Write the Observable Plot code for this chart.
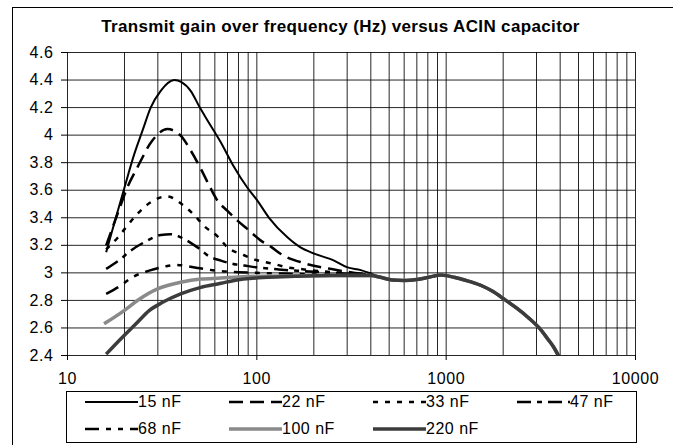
<!DOCTYPE html>
<html><head><meta charset="utf-8">
<script src="https://cdn.jsdelivr.net/npm/d3@7"></script>
<script src="https://cdn.jsdelivr.net/npm/@observablehq/plot@0.6"></script>
<style>
body{margin:0;background:#fff;font-family:"Liberation Sans",Arial,sans-serif;color:#000;}
#wrap{position:relative;width:673px;height:445px;overflow:hidden;background:#fff;}
#frame{position:absolute;left:12px;top:7px;width:700px;height:500px;border-left:1px solid #000;border-top:1px solid #000;}
#title{position:absolute;top:16px;left:4px;width:673px;text-align:center;font-weight:bold;font-size:17px;letter-spacing:0.35px;line-height:22px;}
#chart{position:absolute;top:42px;left:0;}
#legend{position:absolute;left:66px;top:391px;width:569px;height:50px;border:1px solid #000;}
.item{position:absolute;display:flex;align-items:center;height:18px;font-size:16px;letter-spacing:0.5px;white-space:nowrap;}
</style></head><body>
<div id="wrap"><div id="frame"></div><div id="title">Transmit gain over frequency (Hz) versus ACIN capacitor</div><div id="chart"></div><div id="legend"></div></div>
<script>
// ---- data (frequency in Hz, gain) ----
const names = ["15 nF","22 nF","33 nF","47 nF","68 nF","100 nF","220 nF"];

const f15 = [16, 18, 20, 22.5, 25, 27.5, 31, 36.6, 40, 44.8, 50, 55, 64.6, 75, 89, 100, 116, 145, 170, 193, 256, 301, 354, 400];
const v15 = [3.15, 3.40, 3.62, 3.86, 4.04, 4.20, 4.32, 4.40, 4.385, 4.32, 4.20, 4.105, 3.947, 3.78, 3.62, 3.53, 3.40, 3.258, 3.185, 3.149, 3.089, 3.04, 3.02, 2.995];

const f22 = [16, 18.4, 20.7, 23.4, 28, 33.7, 39.6, 44.8, 50, 56, 62, 70, 79, 90, 105, 120, 134, 178, 256, 330, 400];
const v22 = [3.20, 3.43, 3.62, 3.766, 3.959, 4.044, 3.996, 3.887, 3.77, 3.635, 3.524, 3.45, 3.379, 3.313, 3.234, 3.185, 3.137, 3.07, 3.024, 3.0, 2.985];

const f33 = [16, 18.4, 20.7, 23.4, 27, 33.5, 40.5, 46.6, 53, 62, 70, 85, 100, 123, 145, 178, 250, 330, 400];
const v33 = [3.17, 3.255, 3.343, 3.428, 3.505, 3.555, 3.495, 3.42, 3.337, 3.265, 3.185, 3.13, 3.092, 3.065, 3.04, 3.025, 3.005, 2.995, 2.985];

const f47 = [16, 19.1, 21.6, 25.4, 31.1, 35.1, 41.3, 48.6, 56, 64.6, 75, 86, 100, 130, 180, 250, 330, 400];
const v47 = [3.029, 3.101, 3.162, 3.222, 3.275, 3.28, 3.246, 3.185, 3.12, 3.089, 3.065, 3.053, 3.04, 3.025, 3.012, 3.0, 2.99, 2.985];

const f68 = [16, 19.1, 22, 27, 32.4, 37.3, 48.6, 60.7, 80, 100, 150, 250, 400];
const v68 = [2.847, 2.908, 2.968, 3.016, 3.045, 3.058, 3.036, 3.016, 3.005, 3.0, 2.993, 2.985, 2.98];

const f100 = [15.6, 19.9, 23.4, 29.9, 33.7, 39.6, 50.6, 64.6, 80, 100, 150, 250, 400];
const v100 = [2.63, 2.726, 2.799, 2.883, 2.908, 2.932, 2.955, 2.962, 2.97, 2.975, 2.978, 2.98, 2.98];

const f220 = [16, 19.5, 23, 27, 31.8, 39.6, 50.6, 64.6, 75.9, 114, 160, 250, 400];
const v220 = [2.41, 2.533, 2.63, 2.726, 2.786, 2.847, 2.895, 2.924, 2.945, 2.968, 2.975, 2.98, 2.98];

// shared high-frequency tail (all capacitors coincide)
const fTail = [450, 520, 600, 700, 820, 940, 1020, 1100, 1250, 1520, 1750, 2020, 2350, 2700, 3100, 3440, 3700, 3950, 4100];
const vTail = [2.968, 2.948, 2.945, 2.952, 2.97, 2.985, 2.978, 2.968, 2.948, 2.91, 2.868, 2.81, 2.745, 2.678, 2.60, 2.52, 2.46, 2.39, 2.35];

const xTicks = [10, 100, 1000, 10000];
const xLabels = ["10", "100", "1000", "10000"];
const xGrid = [10,20,30,40,50,60,70,80,90,100,200,300,400,500,600,700,800,900,1000,2000,3000,4000,5000,6000,7000,8000,9000,10000];
const yTicks = [2.4, 2.6, 2.8, 3, 3.2, 3.4, 3.6, 3.8, 4, 4.2, 4.4, 4.6];
const yLabels = ["2.4","2.6","2.8","3","3.2","3.4","3.6","3.8","4","4.2","4.4","4.6"];

// ---- styles ----
const styles = [
  {stroke:"#000", width:2, dash:null},
  {stroke:"#000", width:2.5, dash:"14,7"},
  {stroke:"#000", width:2.5, dash:"5,7"},
  {stroke:"#000", width:2.5, dash:"14,6,5,6"},
  {stroke:"#000", width:2.5, dash:"14,7,5,7,5,7"},
  {stroke:"#8a8a8a", width:3.5, dash:null},
  {stroke:"#3c3c3c", width:3.5, dash:null}
];

const heads = [[f15,v15],[f22,v22],[f33,v33],[f47,v47],[f68,v68],[f100,v100],[f220,v220]];
const seriesRows = heads.map(([fs, vs], k) => {
  const rows = fs.map((f, i) => ({f, v: vs[i], s: names[k]}));
  const last = fs[fs.length - 1];
  fTail.forEach((f, i) => { if (f > last) rows.push({f, v: vTail[i], s: names[k]}); });
  return rows;
});

const lineMarks = seriesRows.map((rows, k) => Plot.line(rows, {
  x: "f", y: "v", stroke: styles[k].stroke, strokeWidth: styles[k].width,
  strokeDasharray: styles[k].dash || undefined, curve: "monotone-x", clip: true,
  strokeLinecap: "butt", strokeLinejoin: "round"
}));

const chart = Plot.plot({
  width: 673, height: 346,
  marginLeft: 67, marginRight: 38, marginTop: 10, marginBottom: 33,
  style: {fontFamily: '"Liberation Sans", Arial, sans-serif', fontSize: "16px", letterSpacing: "0.6px", color: "#000", background: "transparent", overflow: "visible"},
  x: {type: "log", domain: [10, 10000], axis: null},
  y: {domain: [2.4, 4.6], axis: null},
  marks: [
    Plot.ruleX(xGrid, {stroke: "#000", strokeOpacity: 0.85, strokeWidth: 1}),
    Plot.ruleY(yTicks, {stroke: "#000", strokeOpacity: 0.85, strokeWidth: 1}),
    Plot.axisY(yTicks, {label: null, tickSize: 6, tickPadding: 8, tickFormat: d => yLabels[yTicks.indexOf(d)], fontSize: 16, stroke: "#000"}),
    Plot.axisX(xTicks, {label: null, tickSize: 5, tickPadding: 12, tickFormat: d => xLabels[xTicks.indexOf(d)], fontSize: 16, stroke: "#000"}),
    ...lineMarks
  ]
});
document.getElementById("chart").appendChild(chart);

// ---- legend ----
const legend = document.getElementById("legend");
const cols = [18, 162, 306, 450];
names.forEach((n, i) => {
  const col = i % 4, row = Math.floor(i / 4);
  const d = document.createElement("div");
  d.className = "item";
  d.style.left = cols[col] + "px";
  d.style.top = (row ? 27.5 : 1) + "px";
  const st = styles[i];
  d.innerHTML = `<svg width="53" height="18"><line x1="0" x2="53" y1="9" y2="9" stroke="${st.stroke}" stroke-width="${st.width}" ${st.dash ? `stroke-dasharray="${st.dash}"` : ""}/></svg><span>${n}</span>`;
  legend.appendChild(d);
});
</script>
</body></html>
